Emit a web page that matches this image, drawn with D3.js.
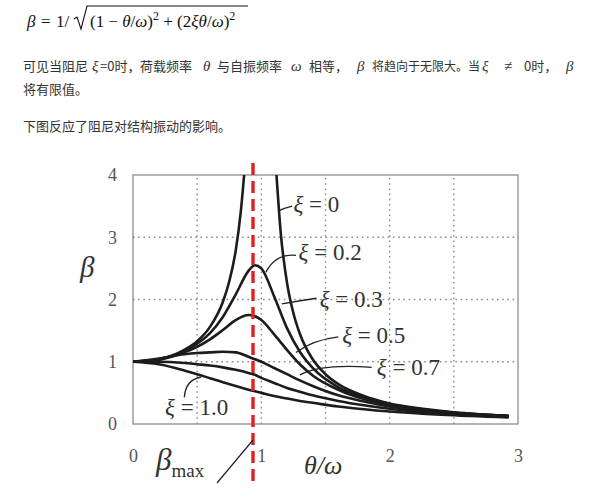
<!DOCTYPE html>
<html>
<head>
<meta charset="utf-8">
<script src="https://cdn.jsdelivr.net/npm/d3@7"></script>
<style>
  html, body { margin: 0; padding: 0; background: #fff; }
  svg { display: block; }
</style>
</head>
<body>
<svg id="chart" width="589" height="499"></svg>
<script>
// ---- data ----------------------------------------------------------------
// frequency ratio θ/ω shared by the damped curves
const ratio   = [0, 0.2, 0.4, 0.5, 0.6, 0.7, 0.8, 0.9, 0.95, 1.0, 1.1, 1.2, 1.3, 1.4, 1.6, 1.8, 2.0, 2.4, 2.92];
// dynamic amplification β for each damping ratio ξ
const beta02  = [1, 1.04, 1.17, 1.29, 1.46, 1.72, 2.08, 2.46, 2.55, 2.50, 2.05, 1.54, 1.16, 0.90, 0.59, 0.43, 0.32, 0.20, 0.13];
const beta03  = [1, 1.03, 1.15, 1.24, 1.36, 1.51, 1.67, 1.75, 1.73, 1.67, 1.44, 1.19, 0.96, 0.78, 0.55, 0.40, 0.31, 0.20, 0.13];
const beta05  = [1, 1.05, 1.12, 1.14, 1.15, 1.16, 1.15, 1.08, 1.04, 1.00, 0.90, 0.80, 0.70, 0.61, 0.46, 0.36, 0.28, 0.19, 0.125];
const beta07  = [1, 1.00, 0.98, 0.96, 0.94, 0.91, 0.87, 0.82, 0.79, 0.74, 0.66, 0.58, 0.52, 0.46, 0.37, 0.30, 0.245, 0.17, 0.118];
const beta10  = [1, 0.96, 0.86, 0.80, 0.735, 0.67, 0.61, 0.55, 0.525, 0.50, 0.45, 0.41, 0.37, 0.34, 0.28, 0.236, 0.20, 0.148, 0.105];
// undamped case (ξ = 0): two branches either side of resonance
const ratio0Left  = [0, 0.2, 0.4, 0.5, 0.6, 0.7, 0.75, 0.8, 0.84, 0.866];
const beta0Left   = [1, 1.04, 1.19, 1.33, 1.56, 1.96, 2.29, 2.78, 3.41, 4.0];
const ratio0Right = [1.118, 1.15, 1.2, 1.25, 1.3, 1.4, 1.5, 1.6, 1.8, 2.0, 2.2, 2.5, 2.92];
const beta0Right  = [4.0, 3.1, 2.27, 1.78, 1.45, 1.04, 0.80, 0.64, 0.45, 0.33, 0.26, 0.19, 0.13];

const dampingLabels = ["0", "0.2", "0.3", "0.5", "0.7", "1.0"];
const xTicks = [0, 1, 2, 3];
const yTicks = [0, 1, 2, 3, 4];
const xGrid  = [0.5, 1, 1.5, 2, 2.5];
const yGrid  = [1, 2, 3];
const peakRatio = 0.935;   // position of β_max marker line

// ---- layout --------------------------------------------------------------
const svg = d3.select("#chart");
const serif = "'Liberation Serif', 'Times New Roman', serif";
const cjk = "'Noto Sans CJK SC', sans-serif";
const mathFont = "'Liberation Serif', 'DejaVu Serif', serif";

const x = d3.scaleLinear().domain([0, 3]).range([133, 518]);
const y = d3.scaleLinear().domain([0, 4]).range([424, 175]);

svg.append("rect").attr("width", 589).attr("height", 499).attr("fill", "#fff");

// ---- formula line ---------------------------------------------------------
const fHead = [["β", 27, true], ["=", 41, false], ["1/", 56, false]];
fHead.forEach(p => {
  svg.append("text").attr("x", p[1]).attr("y", 27)
    .attr("font-family", mathFont).attr("font-size", 17).attr("fill", "#111")
    .attr("font-style", p[2] ? "italic" : "normal").text(p[0]);
});

const radicand = svg.append("text")
  .attr("x", 90).attr("y", 27)
  .attr("font-family", mathFont).attr("font-size", 17).attr("fill", "#111");
const rPieces = [
  ["(1 − ", ""], ["θ", "i"], ["/", ""], ["ω", "i"], [")", ""], ["2", "s"],
  [" + (2", ""], ["ξθ", "i"], ["/", ""], ["ω", "i"], [")", ""], ["2", "s"]
];
let raised = false;
rPieces.forEach(p => {
  const t = radicand.append("tspan").text(p[0]);
  if (p[1] === "i") t.attr("font-style", "italic");
  if (p[1] === "s") { t.attr("font-size", 12).attr("dy", -7); raised = true; }
  else if (raised) { t.attr("dy", 7); raised = false; }
});
svg.append("path")
  .attr("d", "M74,19 L77,17 L81,29 L87,6 L248,6")
  .attr("fill", "none").attr("stroke", "#111").attr("stroke-width", 1.1);

// ---- paragraph text -------------------------------------------------------
const line1 = [
  ["可见当阻尼", 23, "c", 13], ["ξ", 92, "m", 15], ["=0时，", 100, "c", 13], ["荷载频率", 140, "c", 13],
  ["θ", 203, "m", 15], ["与自振频率", 217, "c", 13], ["ω", 291, "m", 15], ["相等，", 309, "c", 13],
  ["β", 357, "m", 15], ["将趋向于无限大。当", 372, "c", 12], ["ξ", 482, "m", 15], ["≠", 504, "m", 15],
  ["0时，", 524, "c", 13], ["β", 566, "m", 15]
];
line1.forEach(s => {
  svg.append("text").attr("x", s[1]).attr("y", 71)
    .attr("font-family", s[2] === "c" ? cjk : mathFont)
    .attr("font-style", s[2] === "m" && s[0] !== "≠" ? "italic" : "normal")
    .attr("font-size", s[3])
    .attr("fill", "#333").text(s[0]);
});
svg.append("text").attr("x", 23).attr("y", 94)
  .attr("font-family", cjk).attr("font-size", 13).attr("fill", "#333").text("将有限值。");
svg.append("text").attr("x", 23).attr("y", 131)
  .attr("font-family", cjk).attr("font-size", 13).attr("fill", "#333").text("下图反应了阻尼对结构振动的影响。");

// ---- grid & frame ---------------------------------------------------------
const grid = svg.append("g").attr("stroke", "#8a8a8a").attr("stroke-width", 1.4)
  .attr("stroke-dasharray", "1.6 3.6");
grid.selectAll("line.v").data(xGrid).join("line")
  .attr("x1", d => x(d)).attr("x2", d => x(d)).attr("y1", y(0)).attr("y2", y(4));
grid.selectAll("line.h").data(yGrid).join("line")
  .attr("y1", d => y(d)).attr("y2", d => y(d)).attr("x1", x(0)).attr("x2", x(3));

svg.append("rect")
  .attr("x", x(0)).attr("y", y(4)).attr("width", x(3) - x(0)).attr("height", y(0) - y(4))
  .attr("fill", "none").attr("stroke", "#8c8c8c").attr("stroke-width", 1.3);

// ---- axes ------------------------------------------------------------------
const xAxis = svg.append("g").attr("transform", `translate(0,${y(0)})`)
  .call(d3.axisBottom(x).tickValues(xTicks).tickSize(0).tickPadding(25).tickFormat(d3.format("d")));
const yAxis = svg.append("g").attr("transform", `translate(${x(0)},0)`)
  .call(d3.axisLeft(y).tickValues(yTicks).tickSize(0).tickPadding(16).tickFormat(d3.format("d")));
[xAxis, yAxis].forEach(a => {
  a.select(".domain").remove();
  a.selectAll("text").attr("font-family", serif).attr("font-size", 18).attr("fill", "#555");
});

// ---- curves ----------------------------------------------------------------
svg.append("clipPath").attr("id", "plotClip").append("rect")
  .attr("x", x(0)).attr("y", y(4)).attr("width", x(3) - x(0)).attr("height", y(0) - y(4));

const line = d3.line().x(d => x(d[0])).y(d => y(d[1])).curve(d3.curveMonotoneX);
const series = [
  d3.zip(ratio0Left, beta0Left),
  d3.zip(ratio0Right, beta0Right),
  d3.zip(ratio, beta02),
  d3.zip(ratio, beta03),
  d3.zip(ratio, beta05),
  d3.zip(ratio, beta07),
  d3.zip(ratio, beta10)
];
svg.append("g").attr("clip-path", "url(#plotClip)")
  .selectAll("path").data(series).join("path")
  .attr("d", line)
  .attr("fill", "none").attr("stroke", "#1c1c1c").attr("stroke-width", 2.6)
  .attr("stroke-linecap", "round").attr("stroke-linejoin", "round");

// ---- curve labels with leader lines (positions in θ/ω, β units) ----------
const labelLayout = [
  { leader: [[1.13, 3.42], [1.18, 3.47], [1.24, 3.50]], at: [1.25, 3.41] },
  { leader: [[1.036, 2.44], [1.11, 2.74], [1.27, 2.71]], at: [1.29, 2.63] },
  { leader: [[1.16, 1.93], [1.30, 1.98], [1.43, 2.02]], at: [1.455, 1.88] },
  { leader: [[1.27, 1.15], [1.40, 1.35], [1.60, 1.40]], at: [1.63, 1.30] },
  { leader: [[1.30, 0.79], [1.47, 0.97], [1.86, 0.91]], at: [1.90, 0.79] },
  { leader: [[0.40, 0.43], [0.41, 0.71], [0.53, 0.755]], at: [0.25, 0.14] }
];
const quad = pts => `M${x(pts[0][0])},${y(pts[0][1])} Q${x(pts[1][0])},${y(pts[1][1])} ${x(pts[2][0])},${y(pts[2][1])}`;
labelLayout.forEach((l, i) => {
  svg.append("path").attr("d", quad(l.leader))
    .attr("fill", "none").attr("stroke", "#222").attr("stroke-width", 1.3);
  const t = svg.append("text").attr("x", x(l.at[0])).attr("y", y(l.at[1]))
    .attr("font-family", serif).attr("font-size", 23).attr("fill", "#333");
  t.append("tspan").attr("font-style", "italic").text("ξ");
  t.append("tspan").text(" = " + dampingLabels[i]);
});

// ---- β_max marker ----------------------------------------------------------
svg.append("line")
  .attr("x1", x(peakRatio)).attr("x2", x(peakRatio)).attr("y1", 163).attr("y2", 483)
  .attr("stroke", "#e3211c").attr("stroke-width", 3.4).attr("stroke-dasharray", "12 6");
svg.append("line")
  .attr("x1", 217).attr("y1", 483).attr("x2", x(peakRatio)).attr("y2", 440)
  .attr("stroke", "#222").attr("stroke-width", 1.2);

// ---- axis titles -----------------------------------------------------------
svg.append("text").attr("x", 80).attr("y", 277)
  .attr("font-family", serif).attr("font-style", "italic").attr("font-size", 29)
  .attr("fill", "#333").text("β");
svg.append("text").attr("x", 304).attr("y", 474)
  .attr("font-family", serif).attr("font-style", "italic").attr("font-size", 26)
  .attr("fill", "#333").text("θ/ω");
const bm = svg.append("text").attr("x", 156).attr("y", 470)
  .attr("font-family", serif).attr("fill", "#333");
bm.append("tspan").attr("font-style", "italic").attr("font-size", 31).text("β");
bm.append("tspan").attr("font-size", 19).attr("dy", 7).text("max");
</script>
</body>
</html>
